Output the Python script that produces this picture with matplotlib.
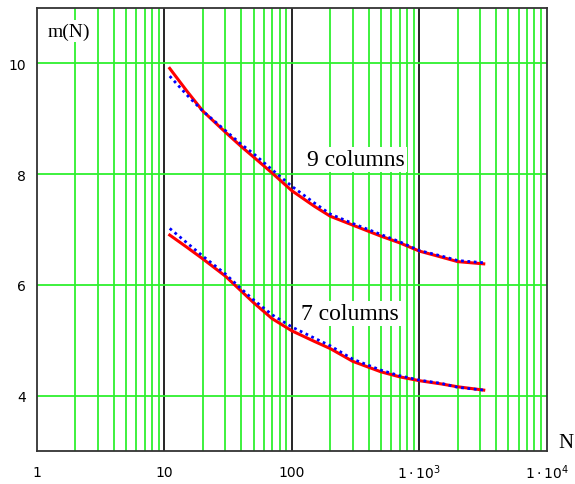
import numpy as np
import matplotlib
matplotlib.use("Agg")
import matplotlib.pyplot as plt

# data
N = [11, 15, 20, 30, 40, 50, 70, 100, 150, 200, 300, 500, 700, 1000, 1500, 2000, 3200]

m9_red = [9.91, 9.50, 9.14, 8.76, 8.50, 8.31, 8.02, 7.70, 7.42, 7.24, 7.08, 6.88, 6.76, 6.61, 6.50, 6.42, 6.38]
m9_blue = [9.77, 9.43, 9.14, 8.79, 8.54, 8.37, 8.08, 7.78, 7.48, 7.28, 7.11, 6.91, 6.78, 6.62, 6.52, 6.44, 6.40]

m7_red = [6.90, 6.68, 6.47, 6.16, 5.89, 5.68, 5.39, 5.17, 4.98, 4.85, 4.62, 4.43, 4.34, 4.27, 4.21, 4.16, 4.10]
m7_blue = [7.02, 6.76, 6.52, 6.20, 5.93, 5.73, 5.46, 5.24, 5.04, 4.90, 4.66, 4.46, 4.36, 4.28, 4.22, 4.15, 4.10]

x_ticks = [1, 10, 100, 1000, 10000]
x_labels = ['1', '10', '100', r'$1\cdot10^{3}$', r'$1\cdot10^{4}$']
y_ticks = [4, 6, 8, 10]

grid_green = '#2ef02e'

fig = plt.figure(figsize=(5.75, 4.85), dpi=100)
ax = fig.add_axes([0.0643, 0.068, 0.8867, 0.9134])

ax.set_xscale('log')
ax.set_xlim(1, 1e4)
ax.set_ylim(3, 11)

# grid: green minor verticals, black decade lines, green horizontals
for dec in [1, 10, 100, 1000]:
    for k in range(2, 10):
        ax.axvline(dec * k, color=grid_green, lw=1.3, zorder=1)
for dec in [10, 100, 1000]:
    ax.axvline(dec, color='black', lw=1.2, zorder=1)
for yv in y_ticks:
    ax.axhline(yv, color=grid_green, lw=1.3, zorder=1)

# curves
ax.plot(N, m9_red, color='red', lw=2.2, zorder=3)
ax.plot(N, m9_blue, color='blue', lw=2.0, linestyle=(0, (1, 1.3)), zorder=4)
ax.plot(N, m7_red, color='red', lw=2.2, zorder=3)
ax.plot(N, m7_blue, color='blue', lw=2.0, linestyle=(0, (1, 1.3)), zorder=4)

# labels
box = dict(facecolor='white', edgecolor='none', pad=1.5)
ax.text(320, 8.27, '9 columns', family='Liberation Serif', fontsize=17,
        ha='center', va='center', bbox=box, zorder=5)
ax.text(285, 5.48, '7 columns', family='Liberation Serif', fontsize=17,
        ha='center', va='center', bbox=box, zorder=5)
ax.text(1.22, 10.58, 'm(N)', family='Liberation Serif', fontsize=14,
        ha='left', va='center', bbox=box, zorder=5)
ax.text(1.022, 0.02, 'N', transform=ax.transAxes, family='Liberation Serif',
        fontsize=15, ha='left', va='center')

ax.set_xticks(x_ticks)
ax.set_xticklabels(x_labels)
ax.xaxis.set_minor_locator(matplotlib.ticker.NullLocator())
ax.set_yticks(y_ticks)
ax.tick_params(axis='both', length=0, labelsize=10)
ax.tick_params(axis='x', pad=15)
ax.tick_params(axis='y', pad=8)
for lab in ax.get_xticklabels():
    lab.set_verticalalignment('center')

for sp in ax.spines.values():
    sp.set_color('#333333')
    sp.set_linewidth(1.3)
    sp.set_zorder(6)

fig.savefig('out.png', dpi=100)
